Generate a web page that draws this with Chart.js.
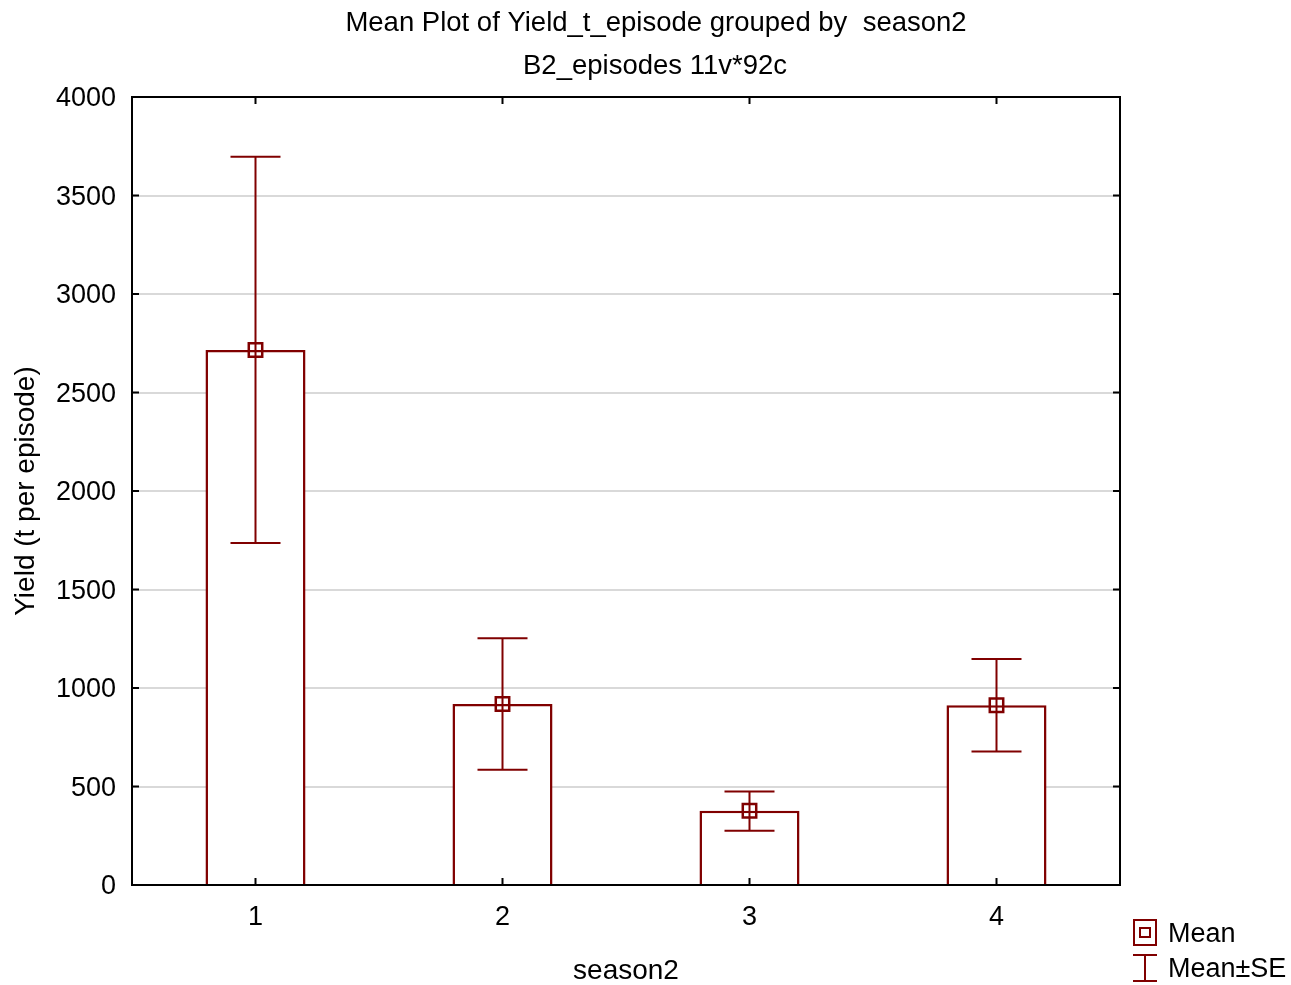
<!DOCTYPE html>
<html>
<head>
<meta charset="utf-8">
<script src="https://cdn.jsdelivr.net/npm/chart.js@4.4.1/dist/chart.umd.min.js"></script>
<style>
  html, body { margin: 0; padding: 0; background: #fff; }
  canvas { display: block; }
</style>
</head>
<body>
<canvas id="mean-plot" width="1291" height="985"></canvas>
<script>
// values
const seasons = ['1', '2', '3', '4'];
const means = [2716, 919, 377, 912];
const seUpper = [3697, 1252, 475, 1147];
const seLower = [1736, 585, 276, 678];
const yTicks = [0, 500, 1000, 1500, 2000, 2500, 3000, 3500, 4000];

const titleLines = ['Mean Plot of Yield_t_episode grouped by  season2', 'B2_episodes 11v*92c'];
const xTitle = 'season2';
const yTitle = 'Yield (t per episode)';
const legendLabels = ['Mean', 'Mean\u00b1SE'];

const dark = '#800000';
const fontFamily = '"Liberation Sans", Arial, sans-serif';

// error bars, frame, inward tick marks, titles and legend
const extras = {
    id: 'extras',
    afterDatasetsDraw(chart) {
        const ctx = chart.ctx;
        const y = chart.scales.y;
        const meta = chart.getDatasetMeta(0);
        ctx.save();
        ctx.strokeStyle = dark;
        ctx.lineWidth = 2;
        meta.data.forEach((bar, i) => {
            const x = bar.x;
            const yt = y.getPixelForValue(seUpper[i]);
            const yb = y.getPixelForValue(seLower[i]);
            ctx.beginPath();
            ctx.moveTo(x, yt); ctx.lineTo(x, yb);
            ctx.moveTo(x - 25, yt); ctx.lineTo(x + 25, yt);
            ctx.moveTo(x - 25, yb); ctx.lineTo(x + 25, yb);
            ctx.stroke();
        });
        ctx.restore();
    },
    afterDraw(chart) {
        const ctx = chart.ctx;
        const a = chart.chartArea;
        const xs = chart.scales.x;
        const ys = chart.scales.y;
        ctx.save();
        ctx.strokeStyle = '#000';
        ctx.lineWidth = 2;
        ctx.strokeRect(a.left, a.top, a.right - a.left, a.bottom - a.top);
        ctx.beginPath();
        yTicks.forEach(v => {
            const py = ys.getPixelForValue(v);
            ctx.moveTo(a.left, py); ctx.lineTo(a.left + 7, py);
            ctx.moveTo(a.right, py); ctx.lineTo(a.right - 7, py);
        });
        seasons.forEach((s, i) => {
            const px = xs.getPixelForValue(i);
            ctx.moveTo(px, a.bottom); ctx.lineTo(px, a.bottom - 7);
            ctx.moveTo(px, a.top); ctx.lineTo(px, a.top + 7);
        });
        ctx.stroke();

        // titles
        ctx.fillStyle = '#000';
        ctx.font = '27.5px ' + fontFamily;
        ctx.textAlign = 'center';
        ctx.textBaseline = 'middle';
        ctx.fillText(titleLines[0], 656, 23);
        ctx.fillText(titleLines[1], 655, 66);

        // legend
        ctx.strokeStyle = dark;
        ctx.lineWidth = 2;
        ctx.strokeRect(1134, 920, 22, 25);
        ctx.strokeRect(1140, 928, 10, 9);
        ctx.beginPath();
        ctx.moveTo(1133, 955); ctx.lineTo(1157, 955);
        ctx.moveTo(1133, 981); ctx.lineTo(1157, 981);
        ctx.moveTo(1145, 955); ctx.lineTo(1145, 981);
        ctx.stroke();
        ctx.font = '27px ' + fontFamily;
        ctx.textAlign = 'left';
        ctx.fillText(legendLabels[0], 1168, 935);
        ctx.fillText(legendLabels[1], 1168, 970);
        ctx.restore();
    }
};

new Chart(document.getElementById('mean-plot').getContext('2d'), {
    data: {
        labels: seasons,
        datasets: [
            {
                type: 'bar',
                label: 'Mean',
                data: means,
                backgroundColor: '#ffffff',
                borderColor: dark,
                borderWidth: 2.5,
                barPercentage: 0.405,
                categoryPercentage: 1,
                order: 2
            },
            {
                type: 'line',
                label: 'Mean marker',
                data: means,
                showLine: false,
                pointStyle: 'rect',
                pointRadius: 9.5,
                pointBorderWidth: 2.5,
                pointBorderColor: dark,
                pointBackgroundColor: 'rgba(0,0,0,0)',
                order: 1
            }
        ]
    },
    options: {
        responsive: false,
        animation: false,
        layout: { padding: { top: 97, right: 171, bottom: 0, left: 0 } },
        plugins: {
            legend: { display: false },
            tooltip: { enabled: false }
        },
        scales: {
            x: {
                type: 'category',
                offset: true,
                grid: { display: false, drawTicks: false },
                border: { display: true, color: '#000', width: 2 },
                ticks: { color: '#000', font: { family: fontFamily, size: 27 }, padding: 16 },
                title: {
                    display: true, text: xTitle, color: '#000',
                    font: { family: fontFamily, size: 28, lineHeight: 1 }, padding: { top: 0, bottom: 0 }
                },
                afterFit(scale) { scale.height = 100; }
            },
            y: {
                min: 0,
                max: 4000,
                grid: { color: '#d9d9d9', lineWidth: 2, drawTicks: false },
                border: { display: true, color: '#000', width: 2 },
                ticks: {
                    stepSize: 500, color: '#000', padding: 16, labelOffset: 2,
                    font: { family: fontFamily, size: 27 },
                    callback: (v) => String(v)
                },
                title: {
                    display: true, text: yTitle, color: '#000',
                    font: { family: fontFamily, size: 28 }, padding: { top: 9, bottom: 0 }
                },
                afterFit(scale) { scale.width = 132; }
            }
        }
    },
    plugins: [extras]
});
</script>
</body>
</html>
